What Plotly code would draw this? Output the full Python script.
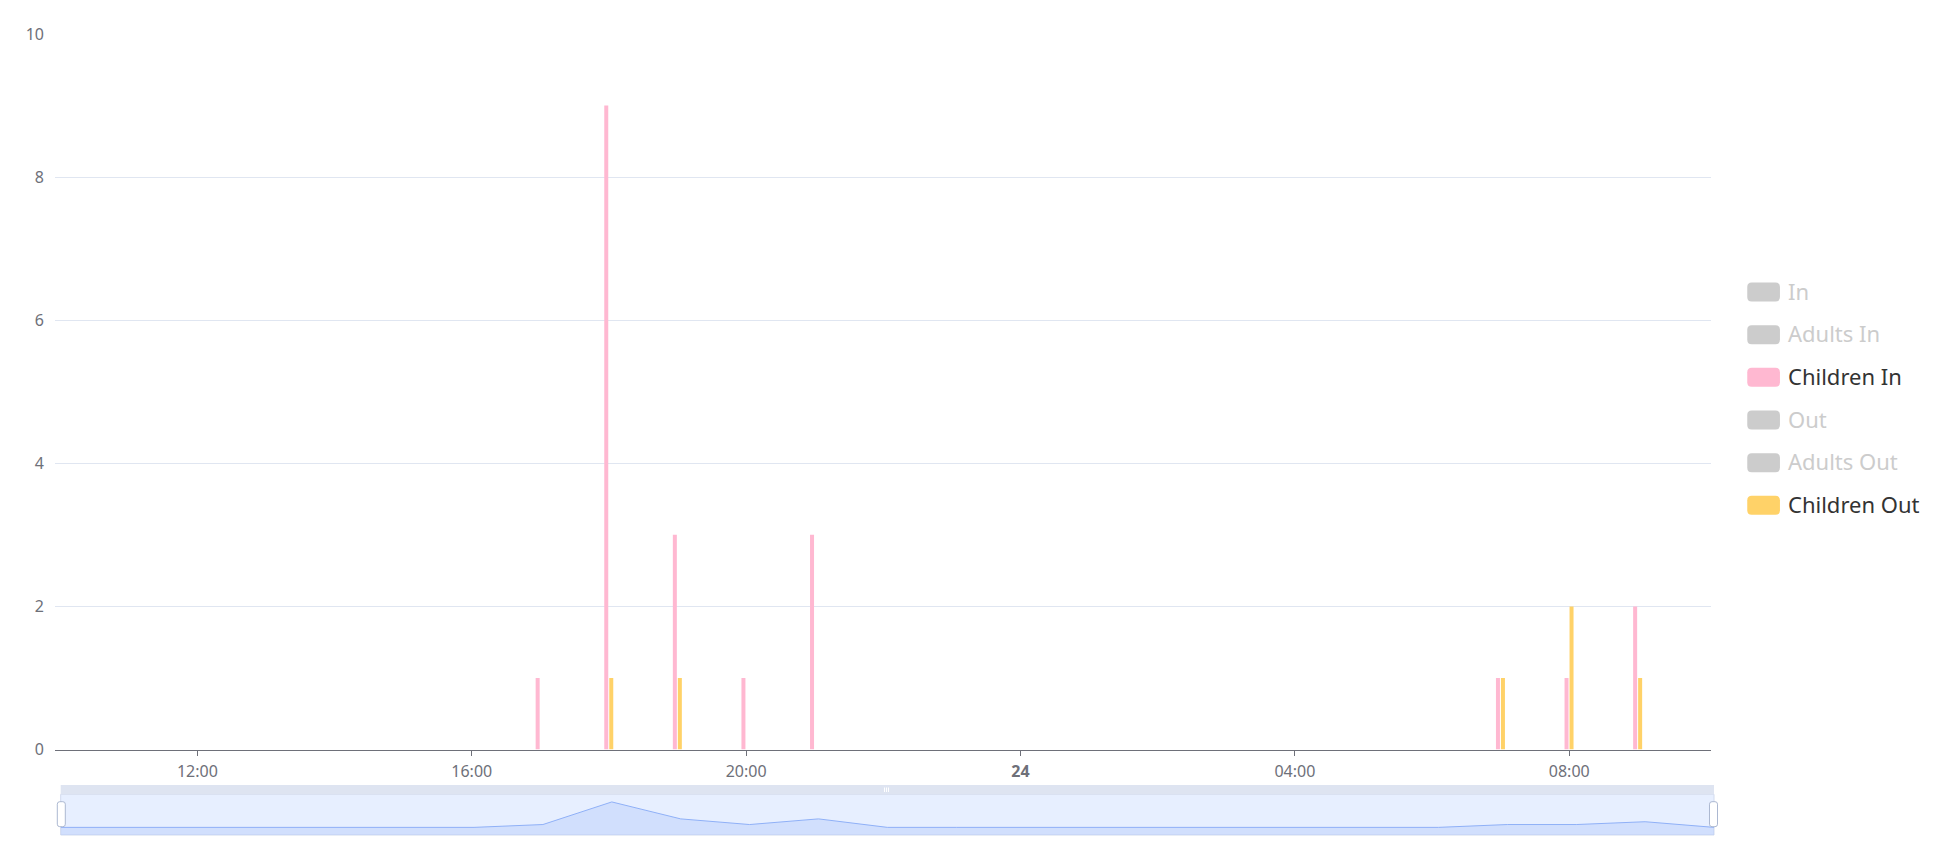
import plotly.graph_objects as go

# ---------------- data ----------------
times = [
    "2024-05-23 10:00", "2024-05-23 11:00", "2024-05-23 12:00", "2024-05-23 13:00",
    "2024-05-23 14:00", "2024-05-23 15:00", "2024-05-23 16:00", "2024-05-23 17:00",
    "2024-05-23 18:00", "2024-05-23 19:00", "2024-05-23 20:00", "2024-05-23 21:00",
    "2024-05-23 22:00", "2024-05-23 23:00", "2024-05-24 00:00", "2024-05-24 01:00",
    "2024-05-24 02:00", "2024-05-24 03:00", "2024-05-24 04:00", "2024-05-24 05:00",
    "2024-05-24 06:00", "2024-05-24 07:00", "2024-05-24 08:00", "2024-05-24 09:00",
    "2024-05-24 10:00",
]
children_in = [0, 0, 0, 0, 0, 0, 0, 1, 9, 3, 1, 3, 0, 0, 0, 0, 0, 0, 0, 0, 0, 1, 1, 2, 0]
children_out = [0, 0, 0, 0, 0, 0, 0, 0, 1, 1, 0, 0, 0, 0, 0, 0, 0, 0, 0, 0, 0, 1, 2, 1, 0]
adults_in = [0] * 25
adults_out = [0] * 25
total_in = [a + c for a, c in zip(adults_in, children_in)]
total_out = [a + c for a, c in zip(adults_out, children_out)]

legend_names = ["In", "Adults In", "Children In", "Out", "Adults Out", "Children Out"]
legend_active = [False, False, True, False, False, True]

tick_vals = ["2024-05-23 12:00", "2024-05-23 16:00", "2024-05-23 20:00",
             "2024-05-24 00:00", "2024-05-24 04:00", "2024-05-24 08:00"]
tick_text = ["12:00", "16:00", "20:00", "<b>24</b>", "04:00", "08:00"]

PINK = "#FFB8D1"
YELLOW = "#FFD268"
INACTIVE = "#CCCCCC"
legend_colors = [INACTIVE, INACTIVE, PINK, INACTIVE, INACTIVE, YELLOW]

# ---------------- geometry helpers ----------------
W, H = 1944, 852
# plot region in window pixels: x 55..1714, y 34..835
ML, MR, MT, MB = 55, W - 1714, 34, H - 835
PW, PH = W - ML - MR, H - MT - MB


def px(x):  # window x pixel -> paper
    return (x - ML) / PW


def py(y):  # window y pixel -> paper
    return (H - MB - y) / PH


MS_PER_PX = 3600000 / 68.58
BAR_W = 4 * MS_PER_PX

fig = go.Figure()

# hidden series (deselected in legend)
for name, vals in [("In", total_in), ("Adults In", adults_in),
                   ("Out", total_out), ("Adults Out", adults_out)]:
    fig.add_trace(go.Bar(x=times, y=vals, name=name, visible=False, showlegend=False))

fig.add_trace(go.Bar(
    x=times, y=children_in, name="Children In", marker=dict(color=PINK, line=dict(width=0)),
    width=BAR_W, offset=-4.7 * MS_PER_PX, showlegend=False, hoverinfo="x+y"))
fig.add_trace(go.Bar(
    x=times, y=children_out, name="Children Out", marker=dict(color=YELLOW, line=dict(width=0)),
    width=BAR_W, offset=0.3 * MS_PER_PX, showlegend=False, hoverinfo="x+y"))

# data-zoom preview (first series "In")
vmax = max(total_in)
vmin = min(total_in)
pad = (vmax - vmin) * 0.3
lo, hi = vmin - pad, vmax + pad
fig.add_trace(go.Scatter(
    x=times, y=[lo] * len(times), xaxis="x2", yaxis="y2", mode="lines",
    line=dict(width=0), showlegend=False, hoverinfo="skip"))
fig.add_trace(go.Scatter(
    x=times, y=total_in, xaxis="x2", yaxis="y2", mode="lines",
    line=dict(color="#8FB0F7", width=1), fill="tonexty",
    fillcolor="rgba(143,176,247,0.25)", showlegend=False, hoverinfo="skip"))

font_family = "Noto Sans, Open Sans, sans-serif"
axis_col = "#6E7079"

shapes = []
# slider filler / background
shapes.append(dict(type="rect", xref="paper", yref="paper", x0=px(60.7), x1=px(1714),
                   y0=py(835), y1=py(794.3), fillcolor="rgba(135,175,255,0.2)",
                   line=dict(color="#D2DBEE", width=1), layer="below"))
# move handle bar
shapes.append(dict(type="rect", xref="paper", yref="paper", x0=px(60.7), x1=px(1714),
                   y0=py(794.3), y1=py(785), fillcolor="#DEE4F1",
                   line=dict(width=0), layer="below"))
# grip on move handle
for gx in (884.5, 886.5, 888.5):
    shapes.append(dict(type="line", xref="paper", yref="paper", x0=px(gx), x1=px(gx),
                       y0=py(792), y1=py(787.5), line=dict(color="#FFFFFF", width=1)))


def rrect(w, h, r):
    a, b = w / 2, h / 2
    return (f"M {-a + r},{-b} L {a - r},{-b} Q {a},{-b} {a},{-b + r} "
            f"L {a},{b - r} Q {a},{b} {a - r},{b} L {-a + r},{b} Q {-a},{b} {-a},{b - r} "
            f"L {-a},{-b + r} Q {-a},{-b} {-a + r},{-b} Z")


# slider handles
for hx in (61.3, 1713.5):
    shapes.append(dict(type="path", xref="paper", yref="paper", xsizemode="pixel",
                       ysizemode="pixel", xanchor=px(hx), yanchor=py(814.2),
                       path=rrect(8, 25, 2.5), fillcolor="#FFFFFF",
                       line=dict(color="#ACB8D1", width=1)))

annotations = []
row0, row_step = 292.0, 42.67
for i, (name, active, col) in enumerate(zip(legend_names, legend_active, legend_colors)):
    cy = row0 + i * row_step
    shapes.append(dict(type="path", xref="paper", yref="paper", xsizemode="pixel",
                       ysizemode="pixel", xanchor=px(1763.6), yanchor=py(cy),
                       path=rrect(32.7, 19, 4.5), fillcolor=col, line=dict(width=0)))
    annotations.append(dict(xref="paper", yref="paper", x=px(1786), y=py(cy - 1.5),
                            xanchor="left", yanchor="middle", showarrow=False, text=name,
                            font=dict(family=font_family, size=22,
                                      color="#333333" if active else "#CCCCCC")))

fig.update_layout(
    width=W, height=H,
    autosize=False,
    margin=dict(l=ML, r=MR, t=MT, b=MB, pad=0, autoexpand=False),
    paper_bgcolor="#FFFFFF", plot_bgcolor="#FFFFFF",
    barmode="overlay",
    showlegend=False,
    font=dict(family=font_family, size=16, color=axis_col),
    xaxis=dict(
        type="date", domain=[0, px(1711)], anchor="y", automargin=False,
        range=["2024-05-23 09:55:26", "2024-05-24 10:04:00"],
        tickmode="array", tickvals=tick_vals, ticktext=tick_text,
        ticks="outside", ticklen=5, tickcolor=axis_col, tickwidth=1,
        ticklabelstandoff=2,
        showline=True, linecolor=axis_col, linewidth=1,
        showgrid=False, zeroline=False,
        tickfont=dict(family=font_family, size=16, color=axis_col),
    ),
    yaxis=dict(
        domain=[py(749.5), 1], anchor="x", range=[0, 10], automargin=False,
        tickmode="array", tickvals=[0, 2, 4, 6, 8, 10],
        showgrid=True, gridcolor="#E0E6F1", gridwidth=1,
        zeroline=False, showline=False, ticks="",
        ticklabelstandoff=10,
        tickfont=dict(family=font_family, size=16, color=axis_col),
    ),
    xaxis2=dict(type="date", domain=[px(60.7), 1], anchor="y2", automargin=False,
                range=[times[0], times[-1]], visible=False),
    yaxis2=dict(domain=[0, py(794.3)], anchor="x2", range=[lo, hi], automargin=False,
                visible=False),
    shapes=shapes,
    annotations=annotations,
)

# place the figure at the window's top-left corner with no page scrollbars
fig.write_html(
    "out.html",
    config={"displayModeBar": False},
    post_script="document.documentElement.style.overflow='hidden';"
                "document.body.style.margin='0';document.body.style.overflow='hidden';",
)
